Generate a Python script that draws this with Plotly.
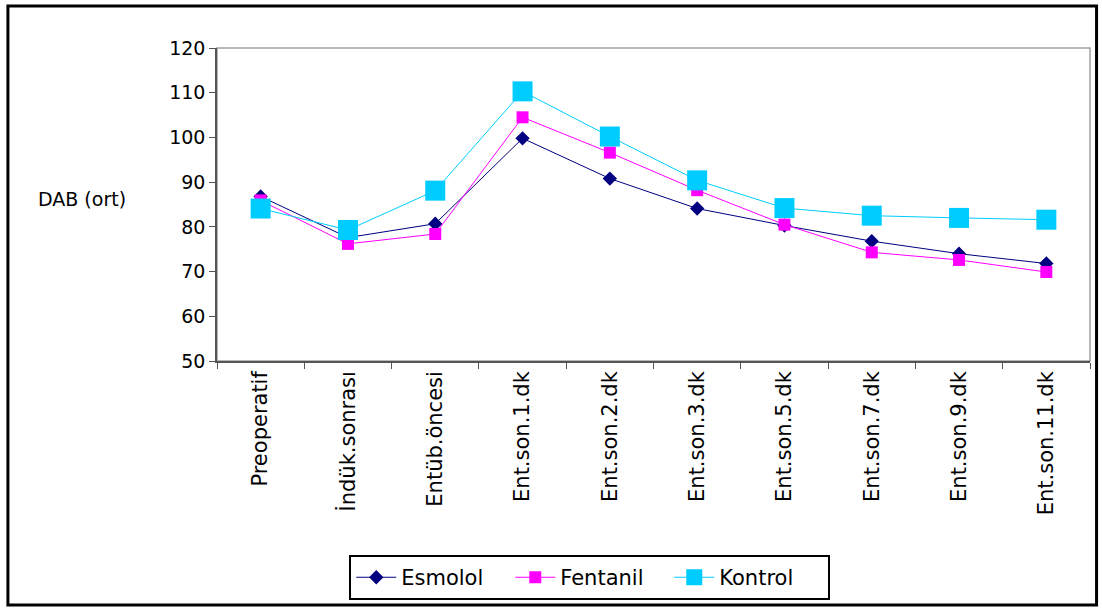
import plotly.graph_objects as go

categories = ["Preoperatif", "İndük.sonrası", "Entüb.öncesi", "Ent.son.1.dk", "Ent.son.2.dk",
              "Ent.son.3.dk", "Ent.son.5.dk", "Ent.son.7.dk", "Ent.son.9.dk", "Ent.son.11.dk"]
esmolol = [86.8, 77.6, 80.7, 99.8, 90.8, 84.1, 80.3, 76.8, 74.0, 71.8]
fentanil = [85.9, 76.2, 78.4, 104.5, 96.6, 88.2, 80.5, 74.3, 72.6, 69.9]
kontrol = [84.1, 79.3, 88.1, 110.3, 100.2, 90.4, 84.2, 82.5, 82.0, 81.6]
y_ticks = [50, 60, 70, 80, 90, 100, 110, 120]

font_family = "DejaVu Sans, Liberation Sans, Arial, sans-serif"

fig = go.Figure()
fig.add_trace(go.Scatter(x=categories, y=esmolol, name="Esmolol", mode="lines+markers",
                         line=dict(color="#000080", width=1),
                         marker=dict(symbol="diamond", size=11, color="#000080")))
fig.add_trace(go.Scatter(x=categories, y=fentanil, name="Fentanil", mode="lines+markers",
                         line=dict(color="#FF00FF", width=1),
                         marker=dict(symbol="square", size=12, color="#FF00FF")))
fig.add_trace(go.Scatter(x=categories, y=kontrol, name="Kontrol", mode="lines+markers",
                         line=dict(color="#00CCFF", width=1),
                         marker=dict(symbol="square", size=20, color="#00CCFF")))

fig.update_layout(
    width=1102, height=610,
    margin=dict(l=217, r=12, t=48, b=248),
    paper_bgcolor="white", plot_bgcolor="white",
    font=dict(family=font_family, size=19, color="black"),
    showlegend=True,
    legend=dict(orientation="h", x=0.427, xanchor="center", y=-0.615, yanchor="top",
                bordercolor="black", borderwidth=2, bgcolor="white",
                font=dict(size=21), itemwidth=40, entrywidth=104, entrywidthmode="pixels"),
    xaxis=dict(type="category", tickson="boundaries", ticks="outside", ticklen=6,
               tickcolor="#555", showline=True, linecolor="#555", linewidth=1.5,
               showgrid=False, tickangle=-90, tickfont=dict(size=21), range=[-0.5, 9.5]),
    yaxis=dict(range=[50, 120], tickvals=y_ticks, ticks="outside", ticklen=6,
               tickcolor="#555", showline=True, linecolor="#555", linewidth=1.5,
               showgrid=False, zeroline=False, tickfont=dict(size=19)),
    shapes=[
        dict(type="rect", xref="paper", yref="paper", x0=0, x1=1, y0=0, y1=1,
             line=dict(color="#A0A0A0", width=1.5), layer="below"),
        dict(type="rect", xref="paper", yref="paper", x0=-0.2395, x1=1.0075, y0=-0.7795, y1=1.134,
             line=dict(color="black", width=3)),
    ],
    annotations=[
        dict(text="DAB (ort)", xref="paper", yref="paper", x=-0.155, y=0.516,
             showarrow=False, font=dict(size=19), xanchor="center", yanchor="middle"),
    ],
)

fig.write_html("out.html", config={"displayModeBar": False},
               post_script="document.body.style.margin='0';document.body.style.overflow='hidden';")
